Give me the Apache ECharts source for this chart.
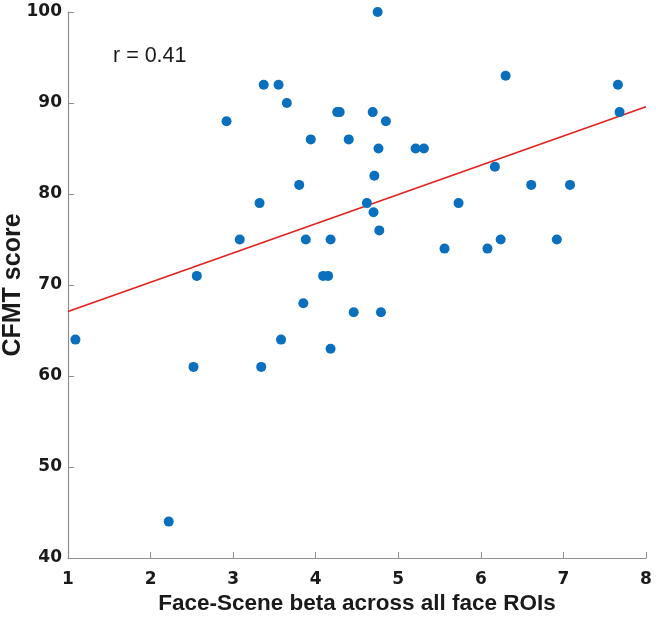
<!DOCTYPE html>
<html>
<head>
<meta charset="utf-8">
<script src="https://cdn.jsdelivr.net/npm/echarts@6/dist/echarts.min.js"></script>
<style>html,body{margin:0;padding:0;background:#fff}#c{width:656px;height:619px}</style>
</head>
<body>
<div id="c"></div>
<script>
const betaX = [1.09,2.22,2.52,3.34,3.58,3.85,4.18,4.46,4.79,
  2.56,3.08,3.32,2.92,3.37,3.55,3.65,3.94,3.80,3.88,
  4.09,4.15,4.18,4.26,4.29,4.40,4.69,4.85,4.76,5.21,5.31,4.71,4.62,4.70,4.77,
  4.75,6.30,7.66,7.68,6.17,6.61,7.08,5.73,6.24,6.92,5.56,6.08];
const cfmtY = [64,44,61,61,64,68,63,67,67,
  71,75,79,88,92,92,90,86,81,75,
  71,71,75,89,89,86,89,88,85,85,85,82,79,78,76,
  100,93,92,89,83,81,81,79,75,75,74,74];
const fitX = [1, 8];
const fitY = [67.1, 89.6];
const xTicks = [1,2,3,4,5,6,7,8];
const yTicks = [40,50,60,70,80,90,100];
const rLabel = 'r = 0.41';

const chart = echarts.init(document.getElementById('c'), null, {renderer:'canvas'});
const titleFont = '"Liberation Sans", Arial, Helvetica, sans-serif';
const tickFont = '"DejaVu Sans", sans-serif';
chart.setOption({
  animation:false,
  grid:{left:68, right:10, top:12, bottom:61, containLabel:false, outerBoundsMode:'none'},
  xAxis:{type:'value', min:xTicks[0], max:xTicks[xTicks.length-1], interval:1,
    name:'Face-Scene beta across all face ROIs', nameLocation:'middle', nameGap:34, nameMoveOverlap:false,
    nameTextStyle:{fontFamily:titleFont, fontWeight:'bold', fontSize:22.5, color:'#1a1a1a'},
    axisLine:{show:true, lineStyle:{color:'#8f8f8f', width:1.2}},
    axisTick:{show:true, inside:true, length:6, lineStyle:{color:'#8f8f8f'}},
    axisLabel:{fontFamily:tickFont, fontWeight:'bold', fontSize:17, color:'#1a1a1a', margin:13},
    splitLine:{show:false}},
  yAxis:{type:'value', min:yTicks[0], max:yTicks[yTicks.length-1], interval:10,
    name:'CFMT score', nameLocation:'middle', nameGap:42, nameMoveOverlap:false,
    nameTextStyle:{fontFamily:titleFont, fontWeight:'bold', fontSize:25, color:'#1a1a1a'},
    axisLine:{show:true, lineStyle:{color:'#8f8f8f', width:1.2}},
    axisTick:{show:true, inside:true, length:6, lineStyle:{color:'#8f8f8f'}},
    axisLabel:{fontFamily:tickFont, fontWeight:'bold', fontSize:17, color:'#1a1a1a', margin:6},
    splitLine:{show:false}},
  graphic:[{type:'text', left:113, top:45, style:{text:rLabel, font:'21.5px '+titleFont, fill:'#1a1a1a'}}],
  series:[
    {type:'line', data:fitX.map((x,i)=>[x,fitY[i]]), symbol:'none',
      lineStyle:{color:'#e3211f', width:1.6}, z:2},
    {type:'scatter', data:betaX.map((x,i)=>[x,cfmtY[i]]), symbolSize:10,
      itemStyle:{color:'#0a6fbd', opacity:1}, z:3}
  ]
});
</script>
</body>
</html>
